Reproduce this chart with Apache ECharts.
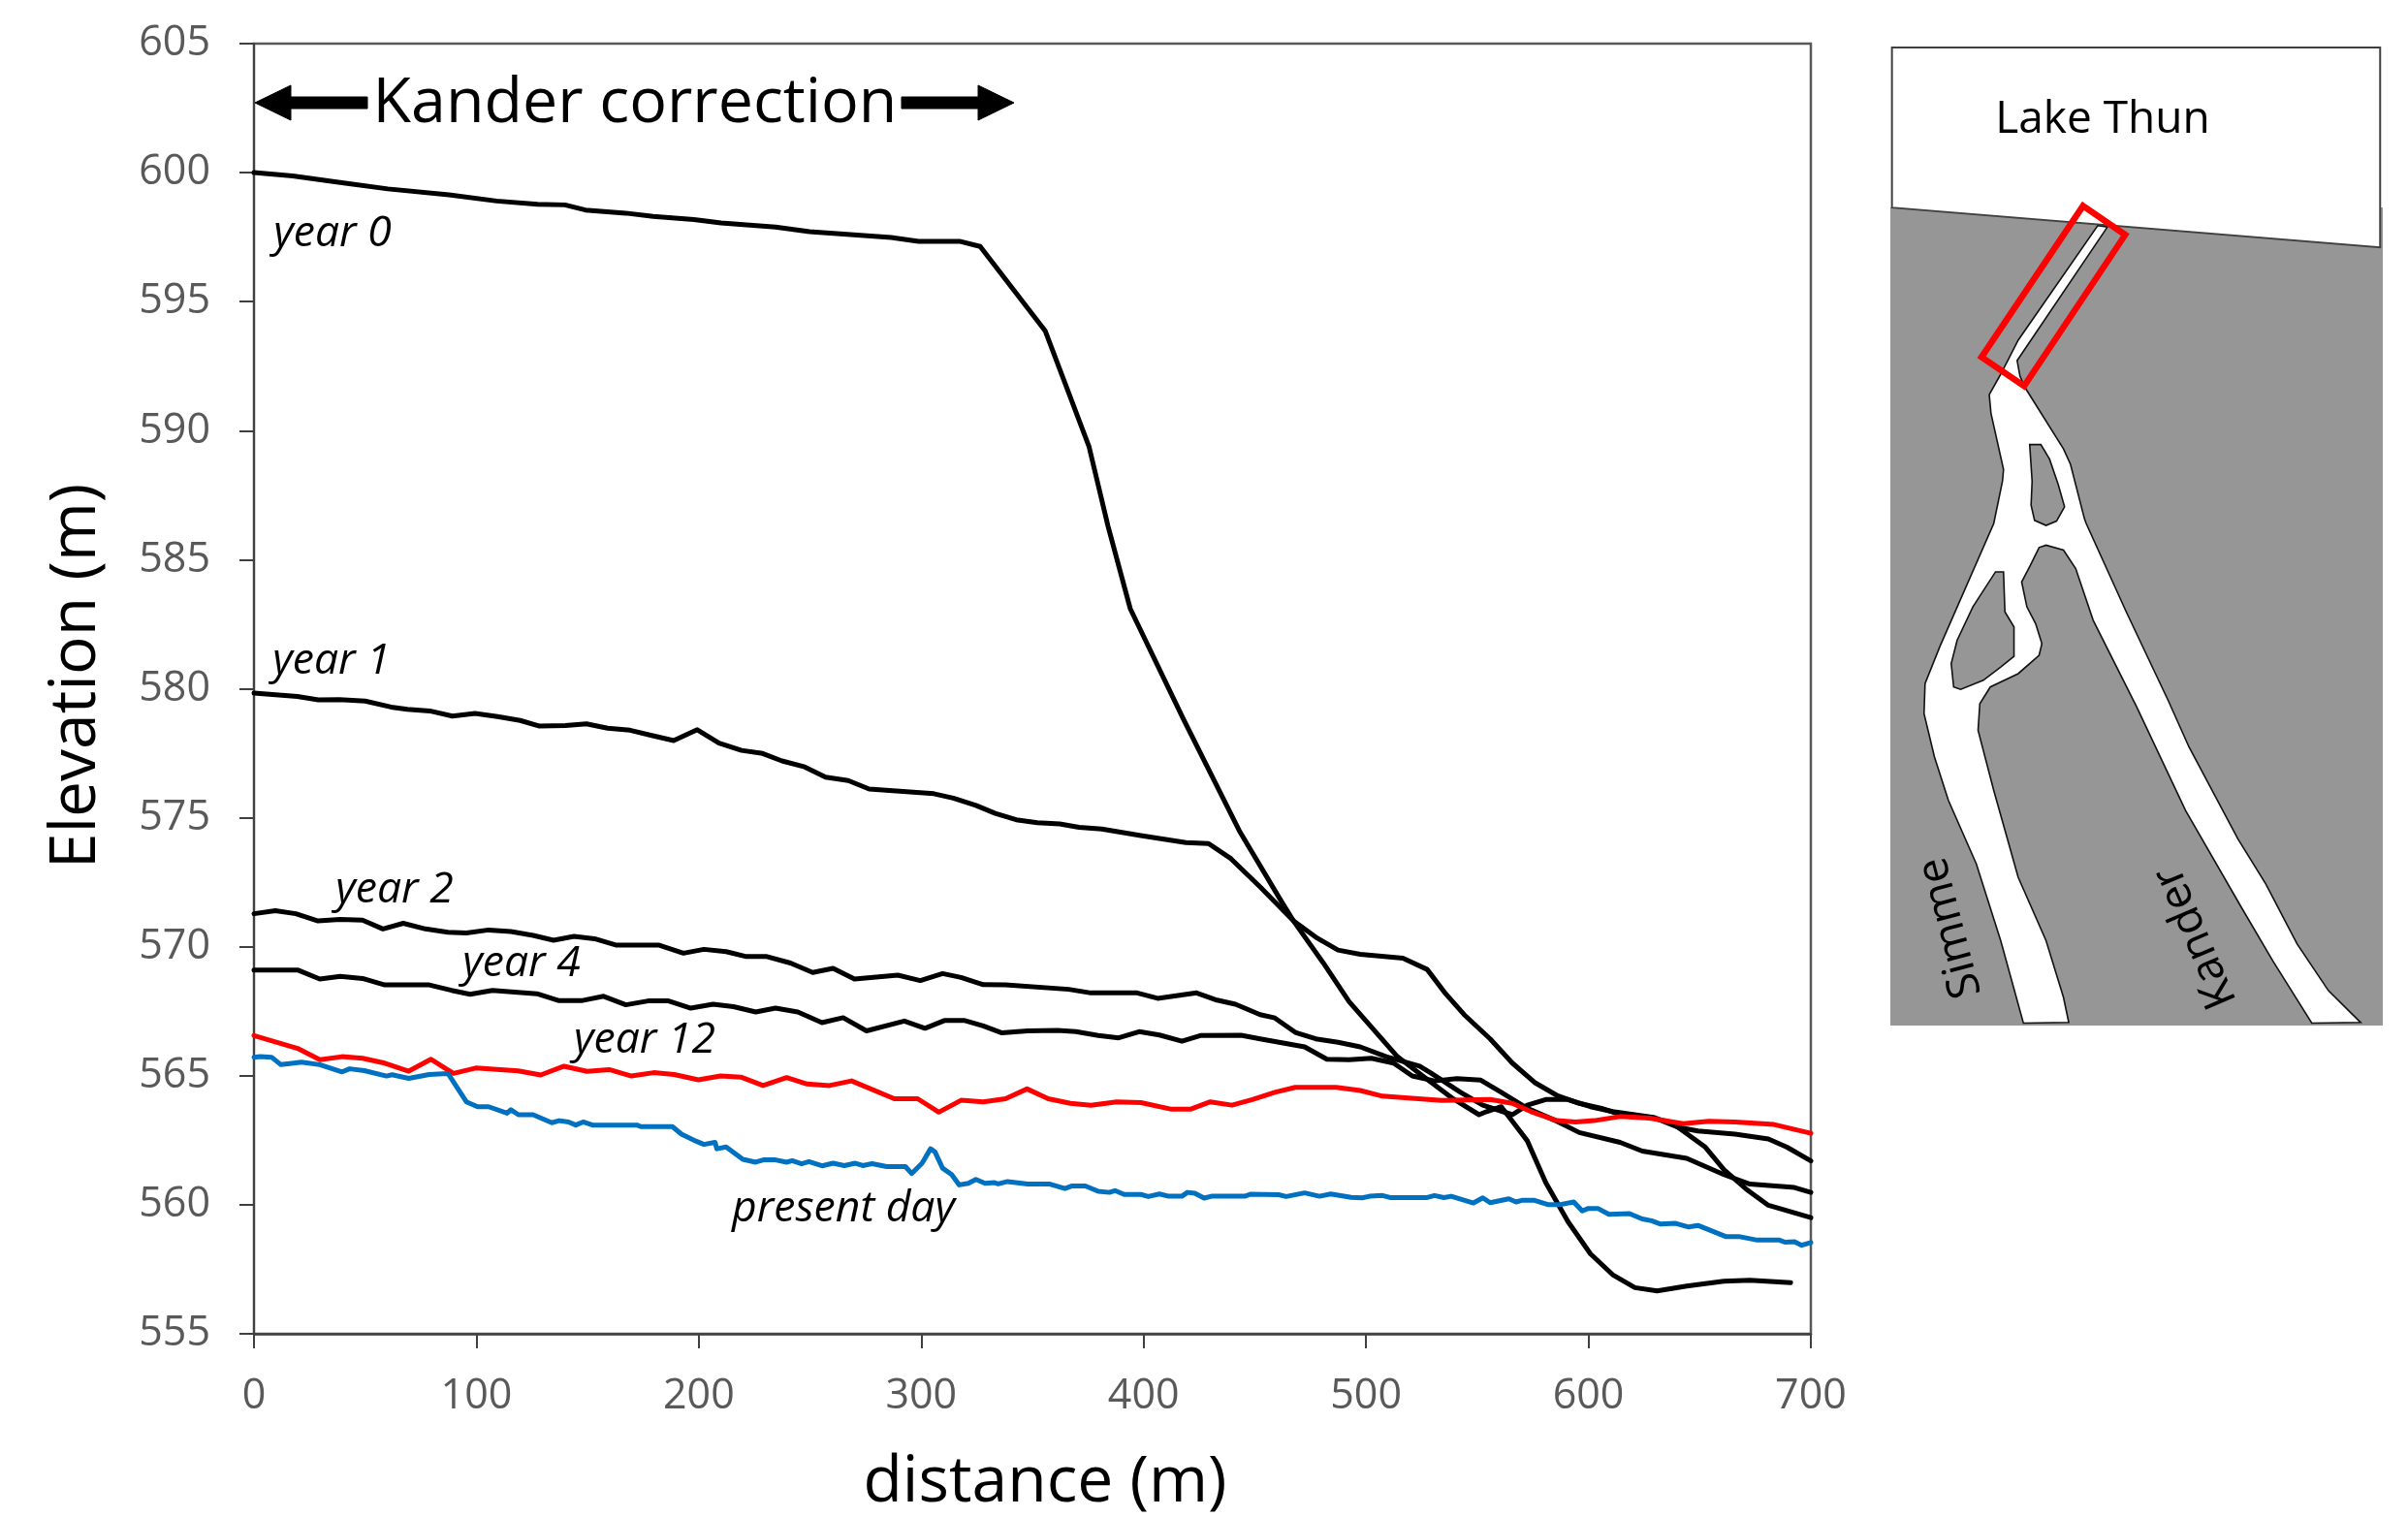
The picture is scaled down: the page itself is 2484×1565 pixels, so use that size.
<!DOCTYPE html>
<html>
<head>
<meta charset="utf-8">
<style>html,body{margin:0;padding:0;background:#fff}#c{width:2484px;height:1565px}</style>
<script src="https://cdn.jsdelivr.net/npm/echarts@6/dist/echarts.min.js"></script>
</head>
<body>
<div id="c"></div>
<script>
var xTicks = [0,100,200,300,400,500,600,700];
var yTicks = [555,560,565,570,575,580,585,590,595,600,605];

var year0 = [[0,600],[17.4,599.87],[38.7,599.62],[60.2,599.37],[87.7,599.14],[109.1,598.9],[127.5,598.77],[139.8,598.75],[149,598.55],[167.2,598.43],[179.5,598.3],[197.8,598.18],[210,598.05],[234.5,597.89],[249.8,597.71],[286.5,597.49],[298.8,597.34],[317.2,597.34],[326.5,597.14],[355.8,593.86],[375.4,589.4],[384,586.3],[394,583.1],[418,578.8],[443,574.5],[462,571.75],[467.4,571],[480.8,569.37],[492.4,567.87],[514.1,565.74],[527.5,564.86],[539.1,564.11],[550.8,563.49],[554.2,563.61],[560.8,563.8],[565.8,563.24],[572.5,562.48],[580.8,560.86],[590.8,559.35],[600.9,558.1],[610.9,557.29],[620.9,556.79],[630.9,556.66],[644.2,556.85],[660.9,557.04],[672.6,557.08],[690.9,556.98]];

var year1 = [[0,579.83],[19.5,579.7],[28.9,579.57],[38.4,579.58],[50,579.52],[61.6,579.29],[68.9,579.2],[79,579.14],[89.2,578.94],[99.4,579.04],[109.5,578.92],[119.7,578.77],[128.4,578.55],[140,578.57],[149.5,578.64],[159,578.47],[169.1,578.39],[179.3,578.18],[188.7,577.99],[199.3,578.41],[209.1,577.89],[219.2,577.61],[228.7,577.49],[237.4,577.2],[247.6,576.97],[257,576.57],[267.2,576.44],[276.6,576.11],[305.7,575.93],[314.4,575.76],[324.6,575.48],[333.3,575.17],[342.7,574.92],[352.2,574.81],[362.3,574.76],[371,574.63],[381.2,574.56],[398.7,574.31],[419,574.04],[429.2,574],[439.3,573.41],[452.5,572.31],[467.4,571],[477.4,570.37],[487.4,569.87],[497.4,569.71],[516.6,569.56],[527.5,569.12],[535.8,568.18],[544.1,567.37],[555.8,566.43],[565.8,565.49],[575.8,564.74],[585.8,564.24],[595.9,563.93],[605.9,563.74],[612.5,563.55],[629.2,563.36],[637.6,563.17],[652.6,562.23],[660.9,561.36],[670.9,560.61],[680.9,559.98],[700,559.5]];

var year2 = [[0,571.28],[9.6,571.4],[18.8,571.28],[28.8,571],[38.8,571.06],[48.8,571.03],[58,570.69],[67.1,570.91],[77.1,570.69],[87.2,570.56],[95.5,570.53],[105.5,570.65],[115.5,570.59],[125.5,570.44],[134.7,570.25],[143.9,570.4],[153.1,570.31],[163,570.06],[182.2,570.06],[193.1,569.75],[202.3,569.9],[212.3,569.81],[221.4,569.62],[230.6,569.62],[241.2,569.37],[251.2,569],[260.4,569.16],[270,568.75],[289.5,568.9],[299.6,568.69],[309.6,568.96],[317.9,568.81],[327.9,568.53],[337.9,568.52],[366.3,568.35],[376.3,568.21],[397.1,568.21],[406.3,568],[423.8,568.21],[433,567.93],[441.3,567.77],[452.4,567.37],[459,567.24],[468.2,566.68],[477.4,566.43],[487.4,566.3],[497.4,566.12],[509.1,565.74],[524.1,565.37],[529.1,565.11],[542.5,564.36],[552.5,563.86],[565.8,563.49],[572.5,563.86],[580.8,564.08],[590.8,564.08],[600.9,563.8],[610.9,563.61],[629.2,563.39],[640.9,562.99],[649.2,562.86],[665.9,562.74],[680.9,562.55],[689.3,562.23],[700,561.7]];

var year4 = [[0,569.1],[19.6,569.1],[29.6,568.75],[38.8,568.85],[48.8,568.77],[58.8,568.52],[78.8,568.52],[88.8,568.31],[97.2,568.16],[107.2,568.31],[127.2,568.18],[137.2,567.91],[147.2,567.91],[157.2,568.08],[167.2,567.75],[177.2,567.9],[186.4,567.9],[196.4,567.62],[206.4,567.77],[215.6,567.68],[225.6,567.47],[234.5,567.62],[244.5,567.47],[255.4,567.06],[264.9,567.25],[275.4,566.74],[292.4,567.12],[301.7,566.84],[310.4,567.14],[319.6,567.14],[327.9,566.93],[336.3,566.66],[347.9,566.74],[361.3,566.76],[369.6,566.71],[379.6,566.56],[388.8,566.47],[398,566.71],[407.1,566.58],[417.2,566.34],[425.5,566.56],[443.8,566.57],[452.4,566.43],[472.4,566.12],[482.4,565.64],[492.4,565.62],[502.4,565.68],[512.4,565.49],[520.8,564.99],[530.8,564.8],[540.8,564.89],[551.6,564.83],[560.8,564.36],[572.5,563.74],[585.8,563.24],[595.9,562.8],[614.2,562.42],[624.2,562.08],[644.2,561.8],[660.9,561.17],[672.6,560.8],[692.6,560.67],[700,560.48]];

var year12 = [[0,566.56],[19.6,566.06],[29.6,565.62],[39.6,565.74],[48.8,565.68],[58.8,565.49],[69.6,565.18],[79.6,565.64],[89.7,565.09],[99.7,565.3],[118.8,565.19],[128.9,565.03],[139.4,565.37],[149.7,565.17],[159.7,565.24],[169.7,564.99],[179.7,565.12],[188.9,565.05],[199.8,564.84],[209.8,564.99],[218.9,564.95],[228.9,564.62],[239.5,564.93],[248.7,564.68],[258.7,564.62],[268.7,564.8],[287.9,564.11],[298.4,564.11],[307.9,563.59],[317.9,564.05],[327.9,563.99],[337.9,564.11],[347.6,564.49],[357.1,564.11],[367.1,563.93],[376.3,563.86],[387.9,563.99],[398.8,563.96],[412.1,563.71],[421.3,563.71],[430,563.99],[439.7,563.86],[448.9,564.08],[459,564.36],[468.2,564.55],[486.6,564.55],[497.4,564.43],[507.4,564.21],[519.1,564.14],[534.1,564.04],[555.8,564.08],[565.8,563.93],[574.2,563.61],[585.8,563.26],[594.2,563.21],[602.5,563.26],[614.2,563.42],[627.5,563.36],[642.6,563.14],[654.2,563.24],[665.9,563.21],[683.4,563.11],[700,562.77]];

var presentDay = [[0,565.72],[2.9,565.74],[7.9,565.72],[12.1,565.43],[17.9,565.49],[21.3,565.53],[29.6,565.43],[39.6,565.15],[43,565.27],[49.6,565.2],[59.6,564.99],[62.1,565.04],[69.6,564.9],[78.8,565.05],[87.2,565.09],[95.5,563.99],[100.5,563.8],[105.5,563.8],[113.8,563.55],[115.5,563.68],[118.9,563.49],[125.5,563.49],[133.9,563.18],[137.2,563.26],[141.4,563.21],[144.7,563.09],[148,563.21],[152.2,563.09],[172.2,563.09],[173.9,563.03],[188.1,563.03],[192.2,562.74],[198.9,562.46],[202.3,562.34],[207.3,562.42],[208.1,562.17],[212.3,562.24],[219.8,561.76],[225.6,561.65],[229,561.74],[234.5,561.74],[239.5,561.65],[242,561.71],[246.2,561.59],[249.5,561.67],[255.4,561.51],[260.4,561.61],[265.4,561.52],[270.4,561.61],[273.7,561.52],[277.9,561.59],[284.5,561.48],[292.9,561.48],[295.7,561.21],[300.4,561.61],[304.2,562.17],[306.2,562.05],[309.6,561.42],[313.7,561.17],[317.1,560.77],[321.2,560.83],[324.6,560.98],[328.7,560.83],[332.9,560.86],[334.6,560.81],[338.8,560.9],[347.9,560.8],[357.9,560.8],[364.6,560.63],[367.9,560.73],[373.8,560.73],[379.6,560.52],[384.6,560.48],[387.1,560.55],[391.3,560.4],[398.8,560.4],[402.1,560.32],[407.1,560.42],[411.3,560.33],[417.2,560.33],[419.7,560.48],[423,560.45],[427.2,560.26],[430.5,560.33],[445.5,560.33],[448,560.41],[460.7,560.39],[464.1,560.32],[472.4,560.46],[479.1,560.33],[484.1,560.42],[493.3,560.29],[498.3,560.27],[501.6,560.33],[507.4,560.36],[510.8,560.28],[527.5,560.28],[530.8,560.36],[535,560.28],[538.3,560.33],[548.3,560.07],[552.5,560.27],[555.8,560.08],[564.2,560.23],[567.5,560.11],[570,560.17],[575.8,560.17],[581.7,560.01],[587.5,560.01],[593.4,560.11],[597.2,559.76],[600,559.86],[604.2,559.86],[609.2,559.63],[618.4,559.66],[624.2,559.45],[628.4,559.38],[632.5,559.25],[639.2,559.28],[645.1,559.14],[649.2,559.2],[661.7,558.77],[667.6,558.77],[675.9,558.63],[685.9,558.63],[688.4,558.55],[692.6,558.57],[695.9,558.43],[700,558.54]];

var seriesNames = ['year 0','year 1','year 2','year 4','year 12','present day'];
var seriesData  = [year0,year1,year2,year4,year12,presentDay];
var seriesColors = ['#000000','#000000','#000000','#000000','#ff0000','#0070c0'];

/* inset sketch map: outline */
function up(p){return [1920+p[0]/2.78, 30+p[1]/2.851];}
function lo(p){return [1920+p[0]/2.78, 540+p[1]/2.904];}
var riverUpperRight = [[706,582],[447,975],[455,1020],[470,1055],[580,1235],[600,1280],[640,1440]];
var riverLower = [[645,0],[760,265],[880,530],[940,670],[1080,945],[1160,1080],[1250,1260],[1340,1400],[1432,1495],[1292,1497],[1180,1310],[1090,1150],[930,860],[790,550],[665,290],[615,135],[580,80],[530,65],[510,72],[485,125],[460,175],[475,250],[500,300],[518,360],[510,395],[450,450],[370,490],[340,540],[335,620],[380,800],[450,1060],[530,1250],[580,1420],[595,1495],[465,1497],[400,1250],[330,1020],[250,830],[210,700],[180,570],[183,480],[225,370],[380,0]];
var riverUpperLeft = [[405,1330],[408,1295],[372,1130],[367,1075],[400,1015],[450,915],[678,578]];
var riverOutline = riverUpperRight.map(up).concat(riverLower.map(lo)).concat(riverUpperLeft.map(up));
var islandA = [[483,1222],[515,1222],[540,1265],[565,1340],[583,1405],[560,1447],[530,1460],[497,1445],[487,1400],[490,1330]].map(up);
var islandB = [[385,145],[408,145],[412,265],[438,310],[438,398],[400,430],[350,470],[285,497],[265,490],[258,420],[275,350],[320,250]].map(lo);
var redBox = [[636,520],[757,605],[467,1050],[345,965]].map(up);
var lakeShape = [[88,54],[1488,54],[1488,642],[88,525]].map(up);

var FONT = '"Open Sans"';
var chart = echarts.init(document.getElementById('c'), null, {renderer:'canvas'});

function txt(s,x,y,size,opts){
  opts = opts||{};
  return {type:'text',x:x,y:y,rotation:opts.rot||0,z:20,style:{text:s,fill:'#000',font:(opts.italic?'italic ':'')+size+'px '+FONT,textAlign:'center',textVerticalAlign:'middle'}};
}
function poly(points,fill,stroke,lw,z){
  return {type:'polygon',z:z,shape:{points:points},style:{fill:fill,stroke:stroke,lineWidth:lw,lineJoin:'miter'}};
}

var graphics = [
  {type:'rect',z:5,shape:{x:1950,y:214,width:508,height:844},style:{fill:'#969696'}},
  poly(lakeShape,'#fff','#404040',2,6),
  poly(riverOutline,'#fff','#111',1.6,7),
  poly(islandA,'#969696','#111',1.6,8),
  poly(islandB,'#969696','#111',1.6,8),
  poly(redBox,'none','#ff0000',6.5,9),
  txt('Lake Thun',2169,124,46),
  txt('Simme',2012,957,46,{rot:104.7*Math.PI/180}),
  txt('Kander',2265,967,46,{rot:113*Math.PI/180}),
  poly([[263,106],[300,88],[300,100],[379,100],[379,112],[300,112],[300,124]],'#000','#000',1,15),
  poly([[1046,106],[1009,88],[1009,100],[930,100],[930,112],[1009,112],[1009,124]],'#000','#000',1,15),
  txt('Kander correction',655,108,64.5),
  txt('year 0',343,241,44.5,{italic:true}),
  txt('year 1',342,682,44.5,{italic:true}),
  txt('year 2',407,918,44.5,{italic:true}),
  txt('year 4',538,994,44.5,{italic:true}),
  txt('year 12',665,1073,44.5,{italic:true}),
  txt('present day',870,1247,44.5,{italic:true})
];

chart.setOption({
  animation:false,
  backgroundColor:'#ffffff',
  grid:{left:262,top:45,width:1606,height:1331,outerBoundsMode:'none',containLabel:false,show:true,borderColor:'#595959',borderWidth:2.5,backgroundColor:'transparent'},
  xAxis:{
    type:'value',min:xTicks[0],max:xTicks[xTicks.length-1],interval:100,
    splitLine:{show:false},
    axisLine:{show:true,lineStyle:{color:'#404040',width:2.5}},
    axisTick:{show:true,inside:false,length:15,lineStyle:{color:'#404040',width:2}},
    axisLabel:{color:'#595959',fontFamily:FONT,fontSize:43,margin:43,showMinLabel:true,showMaxLabel:true},
    name:'distance (m)',nameLocation:'middle',nameGap:121,
    nameTextStyle:{color:'#000',fontFamily:FONT,fontSize:66,padding:[0,0,0,26]}
  },
  yAxis:{
    type:'value',min:yTicks[0],max:yTicks[yTicks.length-1],interval:5,
    splitLine:{show:false},
    axisLine:{show:true,lineStyle:{color:'#404040',width:2}},
    axisTick:{show:true,inside:false,length:15,lineStyle:{color:'#404040',width:2}},
    axisLabel:{color:'#595959',fontFamily:FONT,fontSize:43,margin:45,padding:[4,0,0,0],showMinLabel:true,showMaxLabel:true},
    name:'Elevation (m)',nameLocation:'middle',nameGap:150,nameRotate:90,
    nameTextStyle:{color:'#000',fontFamily:FONT,fontSize:66,padding:[0,0,0,26]}
  },
  series:seriesNames.map(function(n,i){
    return {name:n,type:'line',data:seriesData[i],symbol:'none',smooth:false,clip:true,z:3+i,
      lineStyle:{color:seriesColors[i],width:5,join:'round',cap:'round'}};
  }),
  graphic:graphics
});
</script>
</body>
</html>
